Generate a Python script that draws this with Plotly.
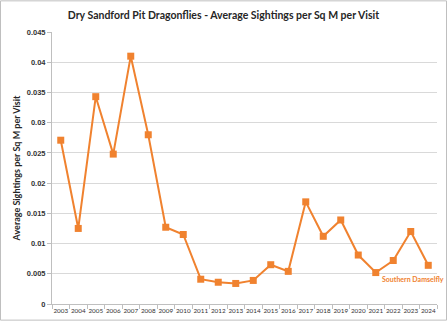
import plotly.graph_objects as go

years = [str(y) for y in range(2003, 2025)]
sightings = [0.0271, 0.0125, 0.0343, 0.0248, 0.0410, 0.0280, 0.0127, 0.0115,
             0.0041, 0.0036, 0.0034, 0.0039, 0.0065, 0.0054, 0.0169, 0.0112,
             0.0139, 0.0081, 0.0052, 0.0072, 0.0120, 0.0064]
series_name = "Southern Damselfly"
y_ticks = [0, 0.005, 0.01, 0.015, 0.02, 0.025, 0.03, 0.035, 0.04, 0.045]
y_tick_text = ["0", "0.005", "0.01", "0.015", "0.02", "0.025", "0.03", "0.035", "0.04", "0.045"]

orange = "#F0822F"

fig = go.Figure()
fig.add_trace(go.Scatter(
    x=years, y=sightings, mode="lines+markers", name=series_name,
    line=dict(color=orange, width=2),
    marker=dict(symbol="square", size=7, color=orange),
    showlegend=False,
))

fig.add_annotation(
    x=len(years) - 1, y=sightings[-1], xref="x", yref="y",
    text="<b>" + series_name + "</b>", showarrow=False,
    xanchor="right", yanchor="top", xshift=18, yshift=-8,
    font=dict(family="Lato, Arial", size=7, color=orange),
)

fig.add_shape(type="rect", xref="paper", yref="paper",
              x0=-0.1338, x1=1.0247, y0=-0.0593, y1=1.1145,
              line=dict(color="#BFBFBF", width=1), layer="below")

fig.update_layout(
    width=447, height=324,
    margin=dict(l=52, r=10, t=32, b=17),
    paper_bgcolor="white", plot_bgcolor="white",
    title=dict(text="<b>Dry Sandford Pit Dragonflies - Average Sightings per Sq M per Visit</b>",
               x=0.5, xanchor="center", y=1 - 15 / 324, yanchor="middle",
               font=dict(family="Lato, Arial", size=10.5, color="#262626")),
    xaxis=dict(type="category", tickson="boundaries", ticks="outside", ticklen=4,
               tickcolor="#BFBFBF", showline=True, linecolor="#BFBFBF", linewidth=1,
               showgrid=False, tickfont=dict(family="Lato, Arial", size=6.3, color="#333333"),
               tickangle=0, range=[-0.5, len(years) - 0.5]),
    yaxis=dict(range=[0, 0.045], tickvals=y_ticks, ticktext=["<b>" + t + "</b>" for t in y_tick_text],
               showgrid=True, gridcolor="#D9D9D9", gridwidth=1.2,
               showline=True, linecolor="#BFBFBF", linewidth=1, zeroline=False,
               ticks="outside", ticklen=4, tickcolor="#BFBFBF",
               tickfont=dict(family="Arial", size=7.5, color="#333333"),
               title=dict(text="<b>Average Sightings per Sq M per Visit</b>",
                          font=dict(family="Lato, Arial", size=9, color="#262626"),
                          standoff=4)),
)

fig.write_html("out.html")
